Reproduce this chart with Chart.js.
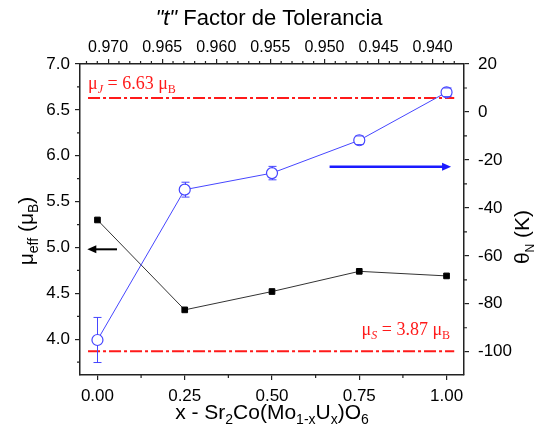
<!DOCTYPE html>
<html lang="es">
<head>
<meta charset="UTF-8">
<title>Factor de Tolerancia</title>
<script src="https://cdn.jsdelivr.net/npm/chart.js"></script>
<style>
  body { margin: 0; background: #fff; }
  #wrap { width: 535px; height: 434px; }
</style>
</head>
<body>
<div id="wrap"><canvas id="chart"></canvas></div>
<script>
// x in Sr2Co(Mo1-xUx)O6
var xVals = [0, 0.25, 0.5, 0.75, 1.0];
// effective moment, left axis
var muEff = [5.30, 4.32, 4.52, 4.74, 4.69];
// theta_N, right axis, with error bars
var thetaN = [-95.1, -32.4, -25.5, -11.8, 8.2];
var thetaErr = [9.4, 3.1, 2.8, 1.8, 1.8];
// reference moments
var muJ = 6.63;
var muS = 3.87;
var refLineX = [-0.027, 1.022];

// axis ticks
var xTicks = [0, 0.25, 0.5, 0.75, 1.0];
var xMinor = [0.125, 0.375, 0.625, 0.875];
var yTicks = [4.0, 4.5, 5.0, 5.5, 6.0, 6.5, 7.0];
var yMinor = [3.75, 4.25, 4.75, 5.25, 5.75, 6.25, 6.75];
var y2Ticks = [-100, -80, -60, -40, -20, 0, 20];
var y2Minor = [-90, -70, -50, -30, -10, 10];
var tTicks = [0.970, 0.965, 0.960, 0.955, 0.950, 0.945, 0.940];
var tMinor = [0.972, 0.971, 0.969, 0.968, 0.967, 0.966, 0.964, 0.963, 0.962, 0.961,
              0.959, 0.958, 0.957, 0.956, 0.954, 0.953, 0.952, 0.951, 0.949, 0.948,
              0.947, 0.946, 0.944, 0.943, 0.942, 0.941, 0.939, 0.938];

var BLUE = '#4646ff';
var RED = '#ff1a1a';
var AXIS = '#222';

function pts(xs, ys) {
    return xs.map(function(x, i) { return { x: x, y: ys[i] }; });
}

// draw text made of parts (sub/superscripts, italics)
function richText(ctx, parts, x, y, align) {
    var total = 0;
    parts.forEach(function(p) {
        ctx.font = p.font;
        p.w = ctx.measureText(p.t).width;
        total += p.w;
    });
    var cx = align === 'center' ? x - total / 2 : (align === 'right' ? x - total : x);
    ctx.textAlign = 'left';
    ctx.textBaseline = 'alphabetic';
    parts.forEach(function(p) {
        ctx.font = p.font;
        ctx.fillText(p.t, cx, y + (p.dy || 0));
        cx += p.w;
    });
}

function arrow(ctx, x1, y1, x2, y2, color, lw) {
    var dir = x2 > x1 ? 1 : -1;
    ctx.save();
    ctx.strokeStyle = color;
    ctx.fillStyle = color;
    ctx.lineWidth = lw;
    ctx.beginPath();
    ctx.moveTo(x1, y1);
    ctx.lineTo(x2 - dir * 7, y2);
    ctx.stroke();
    ctx.beginPath();
    ctx.moveTo(x2, y2);
    ctx.lineTo(x2 - dir * 9, y2 - 4);
    ctx.lineTo(x2 - dir * 9, y2 + 4);
    ctx.closePath();
    ctx.fill();
    ctx.restore();
}

var extras = {
    id: 'extras',
    afterDatasetsDraw: function(chart) {
        var ctx = chart.ctx;
        var sx = chart.scales.x, sy = chart.scales.y, sy2 = chart.scales.y2;

        // error bars on theta_N
        ctx.save();
        ctx.strokeStyle = BLUE;
        ctx.lineWidth = 1;
        xVals.forEach(function(xv, i) {
            var px = Math.round(sx.getPixelForValue(xv)) + 0.5;
            var pc = sy2.getPixelForValue(thetaN[i]);
            var pt = sy2.getPixelForValue(thetaN[i] + thetaErr[i]);
            var pb = sy2.getPixelForValue(thetaN[i] - thetaErr[i]);
            ctx.beginPath();
            if (pc - pt > 5) { ctx.moveTo(px, pc - 5); ctx.lineTo(px, pt); }
            if (pb - pc > 5) { ctx.moveTo(px, pc + 5); ctx.lineTo(px, pb); }
            ctx.moveTo(px - 4, pt); ctx.lineTo(px + 4, pt);
            ctx.moveTo(px - 4, pb); ctx.lineTo(px + 4, pb);
            ctx.stroke();
        });
        ctx.restore();

        // axis arrows
        arrow(ctx, sx.getPixelForValue(0.056), sy.getPixelForValue(4.98),
              sx.getPixelForValue(-0.029), sy.getPixelForValue(4.98), '#000', 2);
        arrow(ctx, sx.getPixelForValue(0.665), sy2.getPixelForValue(-22.8),
              sx.getPixelForValue(1.013), sy2.getPixelForValue(-22.8), '#1a1aff', 2.5);

        // reference labels
        ctx.save();
        ctx.fillStyle = RED;
        var serif = '"Liberation Serif", "Times New Roman", serif';
        richText(ctx, [
            { t: 'μ', font: '18px ' + serif },
            { t: 'J', font: 'italic 12px ' + serif, dy: 4 },
            { t: ' = 6.63 μ', font: '18px ' + serif },
            { t: 'B', font: '12px ' + serif, dy: 4 }
        ], sx.getPixelForValue(-0.027), sy.getPixelForValue(muJ) - 9, 'left');
        richText(ctx, [
            { t: 'μ', font: '18px ' + serif },
            { t: 'S', font: 'italic 12px ' + serif, dy: 4 },
            { t: ' = 3.87 μ', font: '18px ' + serif },
            { t: 'B', font: '12px ' + serif, dy: 4 }
        ], sx.getPixelForValue(1.01), sy.getPixelForValue(muS) - 16, 'right');
        ctx.restore();
    },
    afterDraw: function(chart) {
        var ctx = chart.ctx;
        var a = chart.chartArea;
        var sx = chart.scales.x, sy = chart.scales.y, sy2 = chart.scales.y2, st = chart.scales.x2;

        // minor ticks
        ctx.save();
        ctx.strokeStyle = AXIS;
        ctx.lineWidth = 1.2;
        ctx.beginPath();
        xMinor.forEach(function(v) {
            var p = sx.getPixelForValue(v);
            ctx.moveTo(p, a.bottom); ctx.lineTo(p, a.bottom + 3);
        });
        tMinor.forEach(function(v) {
            var p = st.getPixelForValue(v);
            ctx.moveTo(p, a.top); ctx.lineTo(p, a.top - 3);
        });
        yMinor.forEach(function(v) {
            var p = sy.getPixelForValue(v);
            ctx.moveTo(a.left, p); ctx.lineTo(a.left - 3, p);
        });
        y2Minor.forEach(function(v) {
            var p = sy2.getPixelForValue(v);
            ctx.moveTo(a.right, p); ctx.lineTo(a.right + 3, p);
        });
        ctx.stroke();
        ctx.restore();

        // axis titles
        var sans = '"Liberation Sans", Arial, sans-serif';
        ctx.save();
        ctx.fillStyle = '#000';
        richText(ctx, [
            { t: '"t"', font: 'italic 22px ' + sans },
            { t: ' Factor de Tolerancia', font: '22px ' + sans }
        ], 269, 25, 'center');

        richText(ctx, [
            { t: 'x - Sr', font: '21px ' + sans },
            { t: '2', font: '14px ' + sans, dy: 5 },
            { t: 'Co(Mo', font: '21px ' + sans },
            { t: '1-x', font: '14px ' + sans, dy: 5 },
            { t: 'U', font: '21px ' + sans },
            { t: 'x', font: '14px ' + sans, dy: 5 },
            { t: ')O', font: '21px ' + sans },
            { t: '6', font: '14px ' + sans, dy: 5 }
        ], 272, 419, 'center');

        ctx.save();
        ctx.translate(33, 231);
        ctx.rotate(-Math.PI / 2);
        richText(ctx, [
            { t: 'μ', font: '21px ' + sans },
            { t: 'eff', font: '14px ' + sans, dy: 5 },
            { t: ' (μ', font: '21px ' + sans },
            { t: 'B', font: '14px ' + sans, dy: 5 },
            { t: ')', font: '21px ' + sans }
        ], 0, 0, 'center');
        ctx.restore();

        ctx.save();
        ctx.translate(529, 237);
        ctx.rotate(-Math.PI / 2);
        richText(ctx, [
            { t: 'θ', font: '21px ' + sans },
            { t: 'N', font: '12px ' + sans, dy: 5 },
            { t: ' (K)', font: '21px ' + sans }
        ], 0, 0, 'center');
        ctx.restore();
        ctx.restore();
    }
};

function fixedTicks(list) {
    return function(s) { s.ticks = list.map(function(v) { return { value: v }; }); };
}

var tickFont = { family: '"Liberation Sans", Arial, sans-serif', size: 17 };
var gridOpts = { drawOnChartArea: false, drawTicks: true, tickLength: 5, color: AXIS, lineWidth: 1.2 };
var borderOpts = { display: true, color: AXIS, width: 1.5 };

var ctx = document.getElementById('chart').getContext('2d');
var chart = new Chart(ctx, {
    type: 'line',
    data: {
        datasets: [{
            label: 'theta',
            data: pts(xVals, thetaN),
            yAxisID: 'y2',
            borderColor: BLUE,
            borderWidth: 1,
            pointStyle: 'circle',
            pointRadius: 5.5,
            pointBackgroundColor: '#fff',
            pointBorderColor: BLUE,
            pointBorderWidth: 1.2,
            order: 1
        }, {
            label: 'mueff',
            data: pts(xVals, muEff),
            yAxisID: 'y',
            borderColor: '#333',
            borderWidth: 1,
            pointStyle: 'rect',
            pointRadius: 4,
            pointBackgroundColor: '#000',
            pointBorderColor: '#000',
            order: 2
        }, {
            label: 'muJ',
            data: pts(refLineX, [muJ, muJ]),
            yAxisID: 'y',
            borderColor: RED,
            borderWidth: 2,
            borderDash: [12, 3, 3, 3],
            pointRadius: 0,
            order: 3
        }, {
            label: 'muS',
            data: pts(refLineX, [muS, muS]),
            yAxisID: 'y',
            borderColor: RED,
            borderWidth: 2,
            borderDash: [12, 3, 3, 3],
            pointRadius: 0,
            order: 3
        }]
    },
    options: {
        responsive: true,
        maintainAspectRatio: false,
        animation: false,
        layout: { padding: 0 },
        plugins: { legend: { display: false }, tooltip: { enabled: false } },
        scales: {
            x: {
                type: 'linear', position: 'bottom', min: -0.05, max: 1.05,
                afterBuildTicks: fixedTicks(xTicks),
                afterFit: function(s) { s.height = 59; },
                ticks: { color: '#000', font: tickFont, padding: 6, maxRotation: 0, autoSkip: false,
                         callback: function(v) { return v.toFixed(2); } },
                grid: gridOpts, border: borderOpts
            },
            x2: {
                type: 'linear', position: 'top', reverse: true, min: 0.9371, max: 0.9726,
                afterBuildTicks: fixedTicks(tTicks),
                afterFit: function(s) { s.height = 64; },
                ticks: { color: '#000', font: { family: tickFont.family, size: 16 }, padding: 2,
                         maxRotation: 0, autoSkip: false,
                         callback: function(v) { return v.toFixed(3); } },
                grid: gridOpts, border: borderOpts
            },
            y: {
                type: 'linear', position: 'left', min: 3.61, max: 7.0,
                afterBuildTicks: fixedTicks(yTicks),
                afterFit: function(s) { s.width = 80; },
                ticks: { color: '#000', font: tickFont, padding: 5, autoSkip: false,
                         callback: function(v) { return v.toFixed(1); } },
                grid: gridOpts, border: borderOpts
            },
            y2: {
                type: 'linear', position: 'right', min: -109.7, max: 20,
                afterBuildTicks: fixedTicks(y2Ticks),
                afterFit: function(s) { s.width = 71; },
                ticks: { color: '#000', font: tickFont, padding: 9, autoSkip: false,
                         callback: function(v) { return String(v); } },
                grid: gridOpts, border: borderOpts
            }
        }
    },
    plugins: [extras]
});
</script>
</body>
</html>
